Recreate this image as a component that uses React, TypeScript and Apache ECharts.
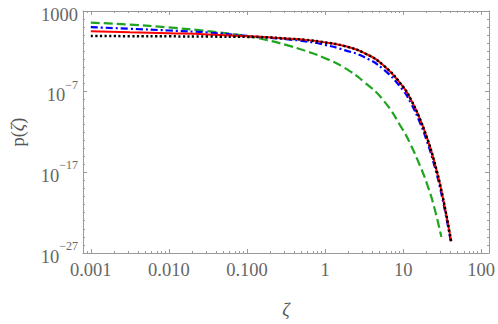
import { useEffect, useRef } from 'react';
import * as echarts from 'echarts';

// ζ values (shared grid for black / red / blue)
const zeta = [0.001, 0.00316, 0.01, 0.0316, 0.1, 0.178, 0.316, 0.562, 1, 1.78, 3.16, 5.62, 10, 12.6, 15.8, 20, 25.1, 31.6, 41.2];
// log10 p(ζ)
const blackLog10P = [-0.10, -0.12, -0.14, -0.17, -0.21, -0.26, -0.42, -0.58, -0.89, -1.35, -2.2, -3.75, -6.4, -8.0, -10.0, -12.6, -15.7, -19.7, -25.55];
const redLog10P = [0.49, 0.38, 0.25, 0.10, -0.13, -0.25, -0.42, -0.58, -0.89, -1.35, -2.2, -3.75, -6.4, -8.0, -10.0, -12.6, -15.7, -19.7, -25.55];
const blueLog10P = [0.99, 0.80, 0.58, 0.33, -0.08, -0.30, -0.50, -0.76, -1.2, -1.85, -2.7, -4.25, -6.85, -8.45, -10.45, -13.05, -16.15, -20.1, -25.85];
const greenZeta = [0.001, 0.00316, 0.01, 0.0316, 0.1, 0.178, 0.316, 0.562, 1, 1.78, 3.16, 5.62, 10, 12.6, 15.8, 20, 25.1, 30.8];
const greenLog10P = [1.55, 1.32, 0.96, 0.50, -0.12, -0.60, -1.20, -1.95, -2.85, -4.05, -5.8, -8.1, -11.8, -13.65, -15.8, -18.3, -21.4, -25.0];

const xTickValues = [0.001, 0.01, 0.1, 1, 10, 100];
const xTickLabels = ['0.001', '0.010', '0.100', '1', '10', '100'];
const yTickExponents = [-27, -17, -7, 3];

const X_MIN = -3.1;
const X_MAX = 2.1;
const Y_MIN = -27;
const Y_MAX = 3;

const FONT = 'Liberation Serif';
const FRAME = '#9a9a9a';
const TEXT = '#666666';

export default function App() {
  const ref = useRef<HTMLDivElement>(null);

  useEffect(() => {
    const chart = echarts.init(ref.current!, null, { renderer: 'svg' });

    const xMajor = xTickValues.map((v) => Math.log10(v));
    const xMinor: number[] = [];
    for (let e = -4; e <= 2; e++) {
      for (let k = 2; k <= 9; k++) {
        const v = Math.log10(k) + e;
        if (v >= X_MIN && v <= X_MAX) xMinor.push(v);
      }
    }
    const yMajor = yTickExponents.slice();
    const yMinor: number[] = [];
    for (let e = Y_MIN; e <= Y_MAX; e++) {
      if (!yMajor.includes(e)) yMinor.push(e);
    }

    const lineStyle = { color: FRAME, width: 1 };

    const xAxisBase = (position: 'bottom' | 'top', ticks: number[], len: number, showLine: boolean, labels: boolean) => ({
      type: 'value',
      position,
      min: X_MIN,
      max: X_MAX,
      splitLine: { show: false },
      axisLine: { show: showLine, onZero: false, lineStyle },
      axisTick: { show: true, inside: true, length: len, lineStyle, customValues: ticks },
      axisLabel: labels
        ? {
            show: true,
            customValues: xMajor,
            margin: 7,
            fontFamily: FONT,
            fontSize: 18.5,
            color: TEXT,
            formatter: (v: number) => {
              const i = xMajor.findIndex((t) => Math.abs(t - v) < 1e-6);
              return i >= 0 ? xTickLabels[i] : '';
            },
          }
        : { show: false },
    });

    const yAxisBase = (position: 'left' | 'right', ticks: number[], len: number, showLine: boolean, labels: boolean) => ({
      type: 'value',
      position,
      min: Y_MIN,
      max: Y_MAX,
      splitLine: { show: false },
      axisLine: { show: showLine, onZero: false, lineStyle },
      axisTick: { show: true, inside: true, length: len, lineStyle, customValues: ticks },
      axisLabel: labels
        ? {
            show: true,
            customValues: yMajor,
            margin: 5,
            color: TEXT,
            fontFamily: FONT,
            formatter: (v: number) => {
              const e = Math.round(v);
              if (e === 3) return '{b|1000}';
              return '{b|10}{s|' + (e < 0 ? '\u2212' : '') + Math.abs(e) + '}';
            },
            rich: {
              b: { fontFamily: FONT, fontSize: 18.5, color: TEXT, lineHeight: 26, verticalAlign: 'bottom' },
              s: { fontFamily: FONT, fontSize: 12, color: TEXT, lineHeight: 10, verticalAlign: 'top' },
            },
          }
        : { show: false },
    });

    const xMain: any = xAxisBase('bottom', xMajor, 4, true, true);
    xMain.name = 'ζ';
    xMain.nameLocation = 'middle';
    xMain.nameGap = 47;
    xMain.nameTextStyle = { fontFamily: FONT, fontSize: 18.5, color: '#555', fontStyle: 'italic' };

    const yMain: any = yAxisBase('left', yMajor, 4, true, true);
    yMain.name = 'p({i|ζ})';
    yMain.nameLocation = 'middle';
    yMain.nameRotate = 90;
    yMain.nameGap = 56;
    yMain.nameTextStyle = {
      fontFamily: FONT,
      fontSize: 18.5,
      color: '#555',
      rich: { i: { fontFamily: FONT, fontSize: 18.5, color: '#555', fontStyle: 'italic' } },
    };

    const toData = (xs: number[], ys: number[]) => xs.map((z, i) => [Math.log10(z), ys[i]]);

    const mk = (name: string, xs: number[], ys: number[], color: string, type: any, width: number) => ({
      name,
      type: 'line',
      xAxisIndex: 0,
      yAxisIndex: 0,
      data: toData(xs, ys),
      showSymbol: false,
      symbol: 'none',
      smooth: 0.5,
      lineStyle: { color, width, type, cap: 'butt' },
    });

    chart.setOption({
      animation: false,
      backgroundColor: '#ffffff',
      grid: { left: 77, right: 8, top: 11, bottom: 59, containLabel: false },
      xAxis: [
        xMain,
        xAxisBase('bottom', xMinor, 2, false, false),
        xAxisBase('top', xMajor, 4, true, false),
        xAxisBase('top', xMinor, 2, false, false),
      ],
      yAxis: [
        yMain,
        yAxisBase('left', yMinor, 2, false, false),
        yAxisBase('right', yMajor, 4, true, false),
        yAxisBase('right', yMinor, 2, false, false),
      ],
      series: [
        mk('green', greenZeta, greenLog10P, '#1fa51f', [9, 4], 2.2),
        mk('blue', zeta, blueLog10P, '#0000ff', [7, 3, 2, 3], 2.2),
        mk('red', zeta, redLog10P, '#ff0000', 'solid', 2),
        mk('black', zeta, blackLog10P, '#000000', [2.2, 2.4], 2.5),
      ],
    });

    return () => chart.dispose();
  }, []);

  return (
    <div
      ref={ref}
      style={{ position: 'fixed', left: 0, top: 0, width: 498, height: 324, background: '#fff' }}
    />
  );
}
